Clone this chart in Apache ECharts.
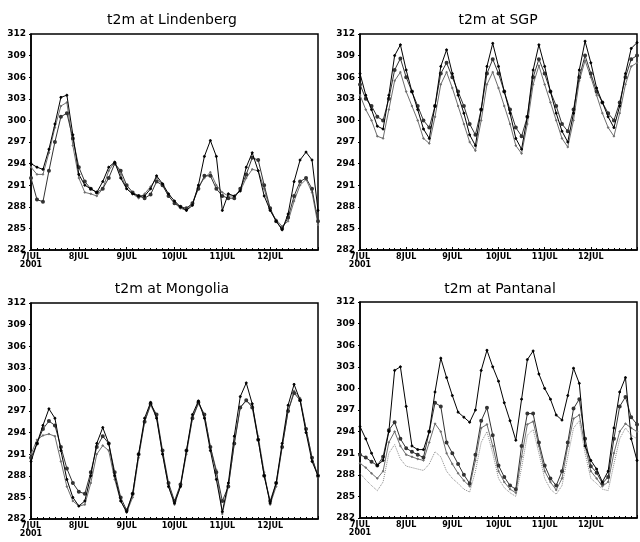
<!DOCTYPE html>
<html>
<head>
<meta charset="utf-8">
<script src="https://cdn.jsdelivr.net/npm/echarts@6/dist/echarts.min.js"></script>
<style>
  html, body { margin: 0; padding: 0; background: #fff; }
  #chart { width: 640px; height: 542px; }
</style>
</head>
<body>
<div id="chart"></div>
<script>
// t2m time series at four sites, 7-12 JUL 2001 (3-hourly readings)

const HOURS = [0, 3, 6, 9, 12, 15, 18, 21, 24, 27, 30, 33, 36, 39, 42, 45, 48,
  51, 54, 57, 60, 63, 66, 69, 72, 75, 78, 81, 84, 87, 90, 93, 96,
  99, 102, 105, 108, 111, 114, 117, 120, 123, 126, 129, 132, 135, 138, 141, 144];
const DAY_TICKS = [0, 24, 48, 72, 96, 120, 144];
const DAY_LABELS = ['7JUL\n2001', '8JUL', '9JUL', '10JUL', '11JUL', '12JUL', ''];
const Y_MIN = 282, Y_MAX = 312, Y_STEP = 3;
const TITLES = ['t2m at Lindenberg', 't2m at SGP', 't2m at Mongolia', 't2m at Pantanal'];

// Lindenberg
const LIN_1 = [294, 293.5, 293.2, 296, 299.5, 303.2, 303.5, 298, 292.5, 291, 290.5, 290, 291.5, 293.5, 294.2, 292, 290.5,
  289.8, 289.5, 289.5, 290.5, 292.3, 291.2, 289.8, 288.8, 288, 287.5, 288.2, 291, 295, 297.2, 295, 287.5,
  289.8, 289.5, 290.2, 293.5, 295.5, 293, 289.5, 287.5, 286, 284.8, 287, 291.5, 294.5, 295.6, 294.5, 287.5];
const LIN_2 = [292, 289, 288.7, 293, 297, 300.5, 301, 297.5, 293.5, 291.5, 290.5, 290, 290.5, 292, 294, 293, 291,
  290, 289.5, 289.2, 289.7, 291.5, 291, 289.5, 288.5, 288, 287.8, 288.5, 290.5, 292.3, 292.3, 290.5, 289.5,
  289.2, 289.2, 290.5, 292.5, 294.8, 294.5, 291, 287.8, 286, 285, 286.5, 289.5, 291.5, 292, 290.5, 286];
const LIN_3 = [293.5, 292.5, 292.5, 295.5, 299, 302, 302.5, 296.5, 292, 290, 289.8, 289.5, 290.5, 293, 294.2, 292.5, 290.5,
  289.8, 289.2, 289.8, 290.8, 292, 291, 289.5, 288.5, 287.8, 287.5, 288.5, 290.8, 292, 292.8, 291, 290,
  289.5, 289.5, 290.2, 292, 293.2, 293, 290.5, 287.5, 286.2, 285.3, 286, 288.8, 291, 291.8, 290, 285.5];

// SGP
const SGP_1 = [306.5, 303.5, 301.5, 299.2, 298.8, 303.5, 309, 310.5, 307, 304, 301.5, 298.8, 297.5, 302, 307.5, 309.8, 306.5,
  303.5, 301, 298, 296.5, 301.5, 307.5, 310.7, 307.5, 304, 301, 297.5, 296, 300.5, 307, 310.5, 307.5,
  304, 301, 298.5, 297, 301, 307, 311, 308, 304.5, 302.5, 300.5, 299, 302, 306.5, 310, 310.8];
const SGP_2 = [305, 303, 302, 300.5, 300, 303, 307, 308.6, 306, 304, 302, 300, 299, 302, 306.5, 308, 306,
  304, 302, 299.5, 298, 301.5, 306.5, 308.5, 306.5, 304, 301.5, 299, 297.8, 300.5, 306, 308.5, 306.5,
  304, 302, 299.5, 298.5, 301.5, 306, 309, 306.5, 304, 302.5, 301, 300, 302.5, 306, 308.5, 309];
const SGP_3 = [303.5, 301.5, 300, 297.8, 297.5, 301.5, 305.5, 306.7, 304, 302, 300, 297.5, 296.8, 300.5, 305, 306.7, 304.5,
  302, 299.5, 297, 295.8, 300, 305, 306.7, 304.5, 302, 299.5, 296.5, 295.4, 299.5, 305, 307.6, 305,
  302.5, 300, 297.5, 296.3, 300, 305.5, 308.3, 306, 303.5, 301, 299, 297.8, 301, 305, 307.5, 308];

// Mongolia
const MON_1 = [290, 292.5, 295, 297.3, 296, 291.5, 287.5, 285, 283.8, 284.5, 288, 292.5, 294.7, 292.5, 288, 284.5, 283,
  285.5, 291, 296, 298.2, 296, 291, 286.5, 284.2, 286.5, 291.5, 296.5, 298.4, 296, 291.5, 287.5, 283,
  287, 293.5, 299, 300.9, 298, 293, 288, 284.2, 287, 292.5, 297.8, 300.7, 298.5, 294, 290, 288];
const MON_2 = [290.5, 292.5, 294.5, 295.6, 295, 292, 289, 287, 285.8, 285.5, 288.5, 292, 293.5, 292.5, 288.5, 285, 283.2,
  285.5, 291, 295.5, 298, 296.5, 291.5, 287, 284.5, 286.8, 291.5, 296, 298.2, 296.5, 292, 288.5, 284.5,
  286.5, 292.5, 297.5, 298.5, 297.5, 293, 288, 284.5, 287, 292, 297, 299.5, 298.5, 294.5, 290.5, 288];
const MON_3 = [291, 293, 293.6, 293.8, 293.5, 290, 286.5, 284.5, 283.8, 284, 287, 291, 292.2, 291.5, 287.5, 284.5, 282.9,
  285, 290.5, 295.5, 297.8, 296.2, 291, 286.5, 284, 286.5, 291, 296, 298, 296.5, 292, 288.8, 282.7,
  286.5, 292.5, 297.5, 298.4, 297.8, 293.5, 288.5, 284, 286.5, 292, 297, 299.8, 298.8, 294.5, 290.5, 287.8];

// Pantanal
const PAN_1 = [294.7, 293, 291, 289.3, 290, 294, 302.5, 303, 297.5, 292, 291.5, 291.5, 294, 299.5, 304.2, 301.5, 299,
  296.7, 296, 295.3, 297, 302.5, 305.3, 303, 301, 298, 295.5, 292.8, 298.5, 304, 305.2, 302, 300,
  298.5, 296.3, 295.6, 299, 302.8, 300.7, 292, 290, 288.8, 287, 288.5, 294.5, 299.5, 301.5, 293, 290];
const PAN_2 = [290.8, 290.4, 289.8, 289.3, 290.5, 294.2, 295.3, 293, 291.7, 291.2, 290.8, 290.4, 294, 298, 297.5, 292.5, 291,
  289.5, 288, 286.8, 290.8, 295.5, 297.3, 293.5, 289.3, 287.7, 286.5, 286, 292, 296.5, 296.5, 292.5, 289.3,
  287.5, 286.5, 288.5, 292.5, 297.2, 298.5, 293, 289.2, 288.3, 286.8, 287.7, 293, 297.5, 298.8, 296, 295];
const PAN_3 = [289.6, 289, 288.2, 287.5, 288.5, 292.5, 294, 292, 290.8, 290.5, 290.2, 290, 292.5, 295.1, 294, 291, 289.5,
  288.2, 287.2, 286.4, 290, 294.5, 295, 292, 288.5, 287, 286, 285.5, 290.5, 295, 295.4, 292, 288.5,
  287, 285.9, 287.5, 292, 295.8, 296.3, 292, 288.5, 287.5, 286.4, 287, 291, 294, 295.1, 294.5, 294];
const PAN_4 = [288.2, 287.3, 286.5, 285.8, 287, 291, 292.2, 290.2, 289.2, 289, 288.8, 288.6, 289.5, 291.2, 290.5, 288.5, 287.5,
  286.8, 286, 285.6, 288.5, 292.5, 294, 291, 287.5, 286.2, 285.5, 285, 289, 293.5, 294.3, 291, 287.5,
  286, 285.3, 286.5, 290.5, 294.5, 295.5, 291, 287.5, 286.8, 286, 285.8, 289.5, 293, 294.5, 293.5, 293];

const PANELS = [
  { lines: [LIN_1, LIN_2, LIN_3] },
  { lines: [SGP_1, SGP_2, SGP_3] },
  { lines: [MON_1, MON_2, MON_3] },
  { lines: [PAN_1, PAN_2, PAN_3, PAN_4] },
];

// 画框位置（像素，对照原图）
const GRIDS = [
  { left: 31, top: 34, width: 287, height: 216 },
  { left: 360, top: 34, width: 287, height: 216 },
  { left: 31, top: 303, width: 287, height: 216 },
  { left: 360, top: 302, width: 287, height: 216 },
];
const TITLE_POS = [[167, 8], [493, 8], [167, 277], [495, 277]];

// 线型：黑实线+实心点 / 深灰+空心点 / 灰色 / 浅灰点线
const LINE_STYLES = [
  { color: '#000000', type: 'solid', width: 1, symbol: 'circle', size: 2 },
  { color: '#333333', type: 'solid', width: 1, symbol: 'emptyCircle', size: 2 },
  { color: '#6e6e6e', type: 'solid', width: 1, symbol: 'circle', size: 1.5 },
  { color: '#8a8a8a', type: 'dotted', width: 1, symbol: 'none', size: 0 },
];

const FONT = '"DejaVu Sans", sans-serif';
const LABEL_STYLE = { color: '#000', fontFamily: FONT, fontSize: 9, fontWeight: 'bold' };

const grid = [], xAxis = [], yAxis = [], series = [], title = [];

PANELS.forEach((p, gi) => {
  grid.push({ ...GRIDS[gi], show: true, borderColor: '#000', borderWidth: 1.5, backgroundColor: '#fff' });
  title.push({
    text: TITLES[gi],
    left: TITLE_POS[gi][0],
    top: TITLE_POS[gi][1],
    textAlign: 'center',
    textStyle: { fontFamily: FONT, fontSize: 14, fontWeight: 'normal', color: '#000' },
  });
  xAxis.push({
    type: 'value',
    gridIndex: gi,
    min: DAY_TICKS[0],
    max: DAY_TICKS[DAY_TICKS.length - 1],
    interval: 24,
    axisLine: { lineStyle: { color: '#000', width: 1.5 } },
    axisTick: { inside: true, length: 3, lineStyle: { color: '#000' } },
    minorTick: { show: true, splitNumber: 8, length: 2, lineStyle: { color: '#000' } },
    splitLine: { show: false },
    axisLabel: {
      ...LABEL_STYLE,
      fontSize: 8,
      lineHeight: 8,
      margin: 3,
      formatter: (v) => DAY_LABELS[DAY_TICKS.indexOf(v)] || '',
    },
  });
  yAxis.push({
    type: 'value',
    gridIndex: gi,
    min: Y_MIN,
    max: Y_MAX,
    interval: Y_STEP,
    axisLine: { show: true, lineStyle: { color: '#000', width: 1.5 } },
    axisTick: { show: true, length: 2, lineStyle: { color: '#000' } },
    splitLine: { show: false },
    axisLabel: { ...LABEL_STYLE, margin: 5 },
  });
  p.lines.forEach((vals, li) => {
    const st = LINE_STYLES[li];
    series.push({
      type: 'line',
      xAxisIndex: gi,
      yAxisIndex: gi,
      data: HOURS.map((h, i) => [h, vals[i]]),
      symbol: st.symbol,
      symbolSize: st.size,
      showSymbol: st.symbol !== 'none',
      lineStyle: { color: st.color, width: st.width, type: st.type },
      itemStyle: { color: st.color, borderColor: st.color, borderWidth: 1 },
      animation: false,
      silent: true,
      z: 10 - li,
    });
  });
});

const chart = echarts.init(document.getElementById('chart'), null, { renderer: 'canvas' });
chart.setOption({
  backgroundColor: '#ffffff',
  animation: false,
  title,
  grid,
  xAxis,
  yAxis,
  series,
});
</script>
</body>
</html>
